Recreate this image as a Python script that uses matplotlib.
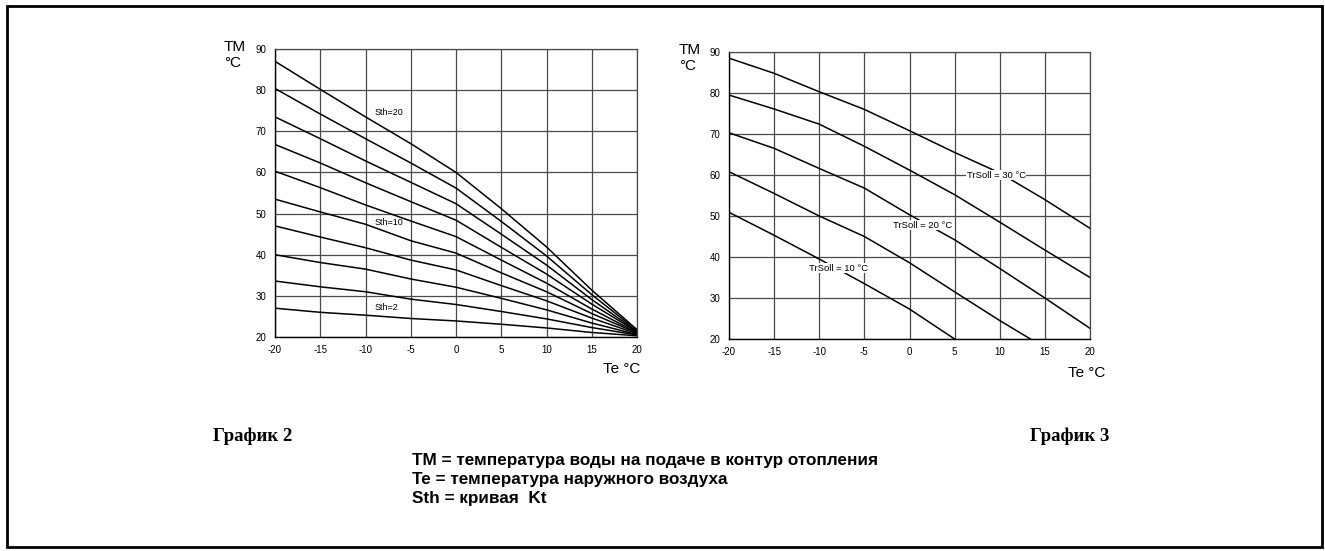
import matplotlib
matplotlib.use("Agg")
import matplotlib.pyplot as plt
from matplotlib.patches import Rectangle

plt.rcParams["font.family"] = ["Liberation Sans", "DejaVu Sans"]
plt.rcParams["axes.unicode_minus"] = False

# Outdoor temperature, °C
te = [-20, -15, -10, -5, 0, 5, 10, 15, 20]

# График 2: flow temperature for each Sth curve
sth2 = [27.0, 26.0, 25.3, 24.5, 23.9, 23.1, 22.2, 21.1, 20.3]
sth4 = [33.6, 32.2, 31.0, 29.2, 27.9, 26.2, 24.4, 22.3, 20.5]
sth6 = [40.0, 38.1, 36.5, 34.1, 32.1, 29.4, 26.6, 23.4, 20.6]
sth8 = [47.0, 44.3, 41.7, 38.7, 36.3, 32.5, 28.8, 24.6, 20.8]
sth10 = [53.5, 50.4, 47.4, 43.4, 40.4, 35.6, 31.0, 25.7, 21.0]
sth12 = [60.3, 56.3, 52.1, 48.2, 44.4, 38.7, 33.1, 26.8, 21.1]
sth14 = [66.8, 62.3, 57.5, 52.9, 48.4, 41.8, 35.3, 28.0, 21.3]
sth16 = [73.5, 68.2, 62.8, 57.6, 52.4, 45.0, 37.5, 29.1, 21.4]
sth18 = [80.4, 74.2, 68.2, 62.3, 56.2, 48.1, 39.7, 30.3, 21.6]
sth20 = [87.0, 80.2, 73.5, 67.0, 60.0, 51.2, 41.9, 31.4, 21.8]
sth_curves = [sth2, sth4, sth6, sth8, sth10, sth12, sth14, sth16, sth18, sth20]

# График 3: curves for different room set points
te_c1 = [-20, -15, -10, -5, 0, 5]
c1 = [50.9, 45.3, 39.5, 33.5, 27.3, 20.0]
te_c2 = [-20, -15, -10, -5, 0, 5, 10, 13.4]
c2 = [60.8, 55.5, 50.0, 45.0, 38.6, 31.5, 24.5, 20.0]
c3 = [70.3, 66.5, 61.6, 56.8, 50.3, 44.2, 37.2, 30.0, 22.6]
c4 = [79.5, 76.1, 72.4, 67.0, 61.2, 55.2, 48.5, 41.7, 35.0]
c5 = [88.5, 84.8, 80.3, 76.0, 70.8, 65.5, 60.5, 54.0, 47.0]

xticks = [-20, -15, -10, -5, 0, 5, 10, 15, 20]
yticks = [20, 30, 40, 50, 60, 70, 80, 90]

W, H = 1325, 551
fig = plt.figure(figsize=(W / 100, H / 100), dpi=100)


def px_axes(x0, y0, x1, y1):
    return fig.add_axes([x0 / W, 1 - y1 / H, (x1 - x0) / W, (y1 - y0) / H])


def setup(ax):
    ax.set_xlim(-20, 20)
    ax.set_ylim(20, 90)
    ax.set_xticks(xticks)
    ax.set_yticks(yticks)
    ax.tick_params(length=0, labelsize=7, pad=6)
    ax.grid(True, color="#4a4a4a", linewidth=0.9)
    for s in ["top", "right"]:
        ax.spines[s].set_color("#4a4a4a")
        ax.spines[s].set_linewidth(0.9)
    for s in ["left", "bottom"]:
        ax.spines[s].set_color("black")
        ax.spines[s].set_linewidth(1.0)
    ax.set_axisbelow(True)


# --- График 2 ---
ax1 = px_axes(275, 49, 637, 337)
setup(ax1)
for y in sth_curves:
    ax1.plot(te, y, color="black", linewidth=1.1)
ax1.text(-9.0, 74.5, "Sth=20", fontsize=6.5, va="center")
ax1.text(-9.0, 47.9, "Sth=10", fontsize=6.5, va="center")
ax1.text(-9.0, 27.2, "Sth=2", fontsize=6.5, va="center")
fig.text(224 / W, 1 - 47 / H, "TM", fontsize=11, va="center")
fig.text(224 / W, 1 - 63 / H, "°C", fontsize=11, va="center")
fig.text(603 / W, 1 - 369 / H, "Te °C", fontsize=11, va="center")

# --- График 3 ---
ax2 = px_axes(729, 52, 1090, 339)
setup(ax2)
ax2.plot(te_c1, c1, color="black", linewidth=1.1)
ax2.plot(te_c2, c2, color="black", linewidth=1.1)
ax2.plot(te, c3, color="black", linewidth=1.1)
ax2.plot(te, c4, color="black", linewidth=1.1)
ax2.plot(te, c5, color="black", linewidth=1.1)
box = dict(facecolor="white", edgecolor="none", pad=0.5)
ax2.text(9.6, 60.0, "TrSoll = 30 °C", fontsize=6.8, ha="center", va="center", bbox=box)
ax2.text(1.5, 47.8, "TrSoll = 20 °C", fontsize=6.8, ha="center", va="center", bbox=box)
ax2.text(-7.9, 37.3, "TrSoll = 10 °C", fontsize=6.8, ha="center", va="center", bbox=box)
fig.text(679 / W, 1 - 50 / H, "TM", fontsize=11, va="center")
fig.text(679 / W, 1 - 66 / H, "°C", fontsize=11, va="center")
fig.text(1068 / W, 1 - 373 / H, "Te °C", fontsize=11, va="center")

# --- captions ---
fig.text(213 / W, 1 - 436 / H, "График 2", fontsize=13.5, fontweight="bold",
         family=["Liberation Serif", "DejaVu Serif"], va="center")
fig.text(1030 / W, 1 - 436 / H, "График 3", fontsize=13.5, fontweight="bold",
         family=["Liberation Serif", "DejaVu Serif"], va="center")
legend_lines = [
    "TM = температура воды на подаче в контур отопления",
    "Te = температура наружного воздуха",
    "Sth = кривая  Kt",
]
for i, line in enumerate(legend_lines):
    fig.text(412 / W, 1 - (461 + i * 18.5) / H, line, fontsize=12.3,
             fontweight="bold", va="center")

# outer frame
fig.add_artist(Rectangle((7 / W, 4 / H), 1315 / W, 541 / H, transform=fig.transFigure,
                         fill=False, edgecolor="black", linewidth=2.0))

fig.savefig("out.png", dpi=100)
